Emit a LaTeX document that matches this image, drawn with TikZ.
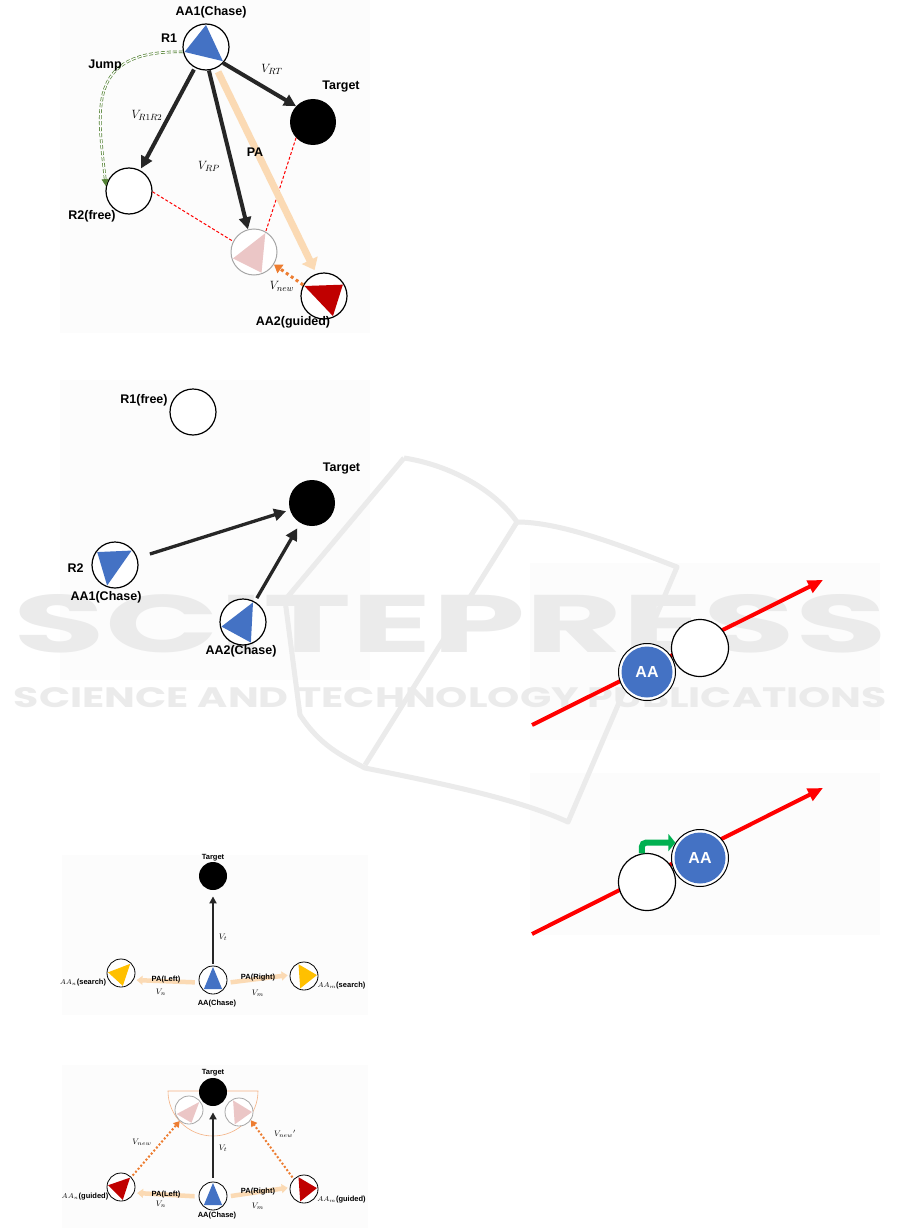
\documentclass[tikz,border=0pt]{standalone}
\usepackage[no-math]{fontspec}
\setmainfont{Liberation Sans}
\newfontfamily\wmfont{Poppins}
\usetikzlibrary{arrows.meta,calc}

\definecolor{aablue}{HTML}{4472C4}
\definecolor{aared}{HTML}{C00000}
\definecolor{aayellow}{HTML}{FFC000}
\definecolor{ghostpink}{HTML}{EBC6C6}
\definecolor{papeach}{HTML}{FBDAB4}
\definecolor{guideorange}{HTML}{ED7D31}
\definecolor{jumpgreen}{HTML}{548235}
\definecolor{hopgreen}{HTML}{00B050}
\definecolor{arrowgray}{HTML}{262626}
\definecolor{halfzone}{HTML}{F4B183}

\tikzset{agent/.style={circle, draw=black, line width=1.2pt, fill=white, minimum size=46pt, inner sep=0pt},
target/.style={circle, fill=black, minimum size=46pt, inner sep=0pt},
ghost/.style={circle, draw=black!35, line width=1pt, fill=white, minimum size=46pt, inner sep=0pt},
small/.style={minimum size=28pt, line width=0.8pt},
lbl/.style={font=\fontsize{12.5}{14}\selectfont\bfseries, inner sep=0pt},
slbl/.style={font=\fontsize{7.5}{9}\selectfont\bfseries, inner sep=0pt},
mlbl/.style={font=\fontsize{13}{15}\selectfont, inner sep=0pt},
smlbl/.style={font=\fontsize{8}{10}\selectfont, inner sep=0pt},
move/.style={draw=arrowgray, line width=4pt, -{Triangle[length=12pt,width=12pt]}},
smove/.style={draw=arrowgray, line width=2.7pt, -{Triangle[length=7pt,width=7pt]}},
pa/.style={draw=papeach, line width=7pt, -{Triangle[length=11pt,width=17pt]}},
spa/.style={draw=papeach, line width=4.5pt, -{Triangle[length=6pt,width=9pt]}},
guide/.style={draw=guideorange, line width=3pt, dash pattern=on 3pt off 3pt, -{Triangle[length=8pt,width=10pt]}},
sguide/.style={draw=guideorange, line width=2pt, dash pattern=on 2pt off 2pt, -{Triangle[length=6pt,width=7pt]}},
link/.style={draw=red, line width=1pt, dash pattern=on 3pt off 2pt},
jumpline/.style={draw=jumpgreen, line width=0.7pt, double=white, double distance=1.2pt, dash pattern=on 4pt off 2pt, -{Triangle[length=7pt,width=7pt]}},
free/.style={circle, draw=black, line width=1.2pt, fill=white, minimum size=57pt, inner sep=0pt},
aa/.style={circle, draw=black, line width=1pt, fill=white, minimum size=57pt, inner sep=0pt, text=white,
  font=\fontsize{16}{18}\selectfont\bfseries,
  path picture={\fill[aablue] (path picture bounding box.center) circle (25.5pt);}},
redline/.style={draw=red, line width=4pt, -{Triangle[length=15pt,width=13pt]}},
hop/.style={draw=hopgreen, line width=6pt, rounded corners=4pt, -{Triangle[length=7pt,width=17pt]}},
wm/.style={text=black!8, inner sep=0pt, font=\wmfont\bfseries},
logo/.style={draw=black!8, line width=5pt, line join=round}}

% triangle inside an agent: node, radius, colour, three angles
\newcommand{\agenttri}[6]{\fill[#3] ($(#1)+(#4:#2)$) -- ($(#1)+(#5:#2)$) -- ($(#1)+(#6:#2)$) -- cycle;}

\begin{document}
\begin{tikzpicture}[x=1pt, y=-1pt]
\useasboundingbox (0,0) rectangle (901,1228);
\fill[white] (0,0) rectangle (901,1228);

\foreach \xa/\ya/\xb/\yb in {60/0/370/333, 60/380/370/680, 62/855/368/1015, 62/1065/368/1228, 530/563/880/740, 530/773/880/935}
    \fill[black!1] (\xa,\ya) rectangle (\xb,\yb);

% watermark
\draw[logo] (404,458) -- (285,600) -- (300,715) .. controls (320,745) and (340,755) .. (365,768)
    .. controls (450,785) and (520,800) .. (568,822) -- (677,567)
    .. controls (620,545) and (560,522) .. (517,522) .. controls (495,490) and (450,465) .. (404,458);
\draw[logo] (517,522) -- (365,765);
\node[wm] (wm1) at (450.5,624) {\resizebox{873pt}{58pt}{SCITEPRESS}};
\node[wm] (wm2) at (450.5,698) {\resizebox{873pt}{20pt}{SCIENCE AND TECHNOLOGY PUBLICATIONS}};

% ---- panel 1
\node[agent] (R1) at (206,47) {};
\node[target] (T1) at (313,122) {};
\node[agent] (R2) at (129,191) {};
\node[ghost] (G1) at (254,252) {};
\node[agent] (AA2) at (324,296) {};
\agenttri{R1}{22}{aablue}{270}{167}{40}
\agenttri{G1}{22}{ghostpink}{301}{163}{70}
\agenttri{AA2}{22}{aared}{207}{329}{66}

\draw[link] (R2.-2) -- (G1.153);
\draw[link] (T1.223) -- (G1.60);
\draw[pa, shorten <=4pt, shorten >=4pt] (R1.-64) -- (AA2.109);
\draw[move, shorten <=2pt, shorten >=2pt] (R1) -- (R2);
\draw[move] (R1.-83) -- (G1.105);
\draw[move] (R1.-43) -- (T1.137);
\draw[jumpline] (R1.192) .. controls +(-98,-2) and +(-8,-76) .. (R2.168);
\draw[guide] (AA2.152) -- (G1.-32);

\node[lbl] (tAA1) at (211,12) {AA1(Chase)};
\node[lbl] (tR1) at (169,38) {R1};
\node[lbl] (tJump) at (105,65) {Jump};
\node[lbl] (tT1) at (341,87) {Target};
\node[lbl] (tR2) at (92,216) {R2(free)};
\node[lbl] (tAA2) at (293,322) {AA2(guided)};
\node[lbl] (tPA) at (255,152) {PA};
\node[mlbl] (vRT) at (272,69) {$V_{RT}$};
\node[mlbl] (vR1R2) at (147,115) {$V_{R1R2}$};
\node[mlbl] (vRP) at (209,166) {$V_{RP}$};
\node[mlbl] (vnew) at (282,286) {$V_{new}$};

% ---- panel 2
\node[agent] (R1b) at (193,412) {};
\node[target] (T2) at (312,503) {};
\node[agent] (AA1b) at (115,565) {};
\node[agent] (AA2b) at (243,622) {};
\agenttri{AA1b}{22}{aablue}{216}{319}{111}
\agenttri{AA2b}{22}{aablue}{297}{168}{69}

\draw[move, line width=3.3pt, shorten <=13pt, shorten >=4pt] (AA1b) -- (T2);
\draw[move, line width=3.3pt, shorten <=4pt, shorten >=6pt] (AA2b) -- (T2);

\node[lbl] (tR1b) at (144,400) {R1(free)};
\node[lbl] (tT2) at (341.5,469) {Target};
\node[lbl] (tR2b) at (75.5,568) {R2};
\node[lbl] (tAA1b) at (106,597) {AA1(Chase)};
\node[lbl] (tAA2b) at (241,651) {AA2(Chase)};

% ---- panel 3
\node[target, small] (T3) at (213,876) {};
\node[agent, small] (AA3) at (213,980) {};
\node[agent, small] (AAn3) at (121,973) {};
\node[agent, small] (AAm3) at (304,976) {};
\agenttri{AA3}{13}{aablue}{270}{135}{45}
\agenttri{AAn3}{13}{aayellow}{183}{315}{82}
\agenttri{AAm3}{13}{aayellow}{245}{356}{107}

\draw[smove, shorten <=2pt, shorten >=6pt] (AA3) -- (T3);
\draw[spa, shorten <=4pt, shorten >=3pt] (AA3.190) -- (AAn3.-29);
\draw[spa, shorten <=3.5pt, shorten >=2pt] (AA3.-11) -- (AAm3.176);

\node[slbl] (tT3) at (213,858) {Target};
\node[slbl] (tAA3) at (217,1004) {AA(Chase)};
\node[slbl] (tAAn3) at (83,983) {$AA_n$(search)};
\node[slbl] (tAAm3) at (341.5,986) {$AA_m$(search)};
\node[slbl] (tPL3) at (166,980) {PA(Left)};
\node[slbl] (tPR3) at (258,978) {PA(Right)};
\node[smlbl] (vt3) at (223,937) {$V_t$};
\node[smlbl] (vn3) at (161,992) {$V_n$};
\node[smlbl] (vm3) at (258,993) {$V_m$};

% ---- panel 4
\draw[halfzone, line width=0.6pt] (168,1091) arc[start angle=180, end angle=0, radius=45] -- cycle;
\node[target, small] (T4) at (213,1092) {};
\node[ghost, small] (GL4) at (189,1110) {};
\node[ghost, small] (GR4) at (239,1112) {};
\node[agent, small] (AA4) at (213,1196) {};
\node[agent, small] (AAn4) at (121,1187) {};
\node[agent, small] (AAm4) at (304,1189) {};
\agenttri{GL4}{13}{ghostpink}{162}{322}{79}
\agenttri{GR4}{13}{ghostpink}{243}{0}{109}
\agenttri{AA4}{13}{aablue}{270}{135}{45}
\agenttri{AAn4}{13}{aared}{188}{314}{82}
\agenttri{AAm4}{13}{aared}{245}{356}{107}

\draw[smove, shorten <=4pt, shorten >=6pt] (AA4) -- (T4);
\draw[spa, shorten <=4pt, shorten >=3pt] (AA4.182) -- (AAn4.-24);
\draw[spa, shorten <=3.5pt, shorten >=2pt] (AA4.-2) -- (AAm4.174);
\draw[sguide, shorten <=2pt] (AAn4.44) -- (GL4.230);
\draw[sguide, shorten <=2pt] (AAm4.136) -- (GR4.-35);

\node[slbl] (tT4) at (213,1073) {Target};
\node[slbl] (tAA4) at (217,1216) {AA(Chase)};
\node[slbl] (tAAn4) at (85,1197) {$AA_n$(guided)};
\node[slbl] (tAAm4) at (341.5,1200) {$AA_m$(guided)};
\node[slbl] (tPL4) at (166,1195) {PA(Left)};
\node[slbl] (tPR4) at (258,1192) {PA(Right)};
\node[smlbl] (vt4) at (223,1148) {$V_t$};
\node[smlbl] (vn4) at (161,1204) {$V_n$};
\node[smlbl] (vm4) at (258,1206) {$V_m$};
\node[smlbl] (vnew4) at (142,1142) {$V_{new}$};
\node[smlbl] (vnewp4) at (285,1134) {$V_{new}{}'$};

% ---- panel 5
\coordinate (s5) at (532,725);
\coordinate (e5) at (823,580);
\draw[redline] (s5) -- (e5);
\node[free] (W5) at (700,648) {};
\node[aa] (A5) at (647,672) {AA};

% ---- panel 6
\coordinate (s6) at (532,934);
\coordinate (e6) at (823,788);
\draw[redline] (s6) -- (e6);
\node[free] (W6) at (647,882) {};
\node[aa] (A6) at (700,858) {AA};
\draw[hop] (W6.100) |- (A6.148);

\end{tikzpicture}
\end{document}
